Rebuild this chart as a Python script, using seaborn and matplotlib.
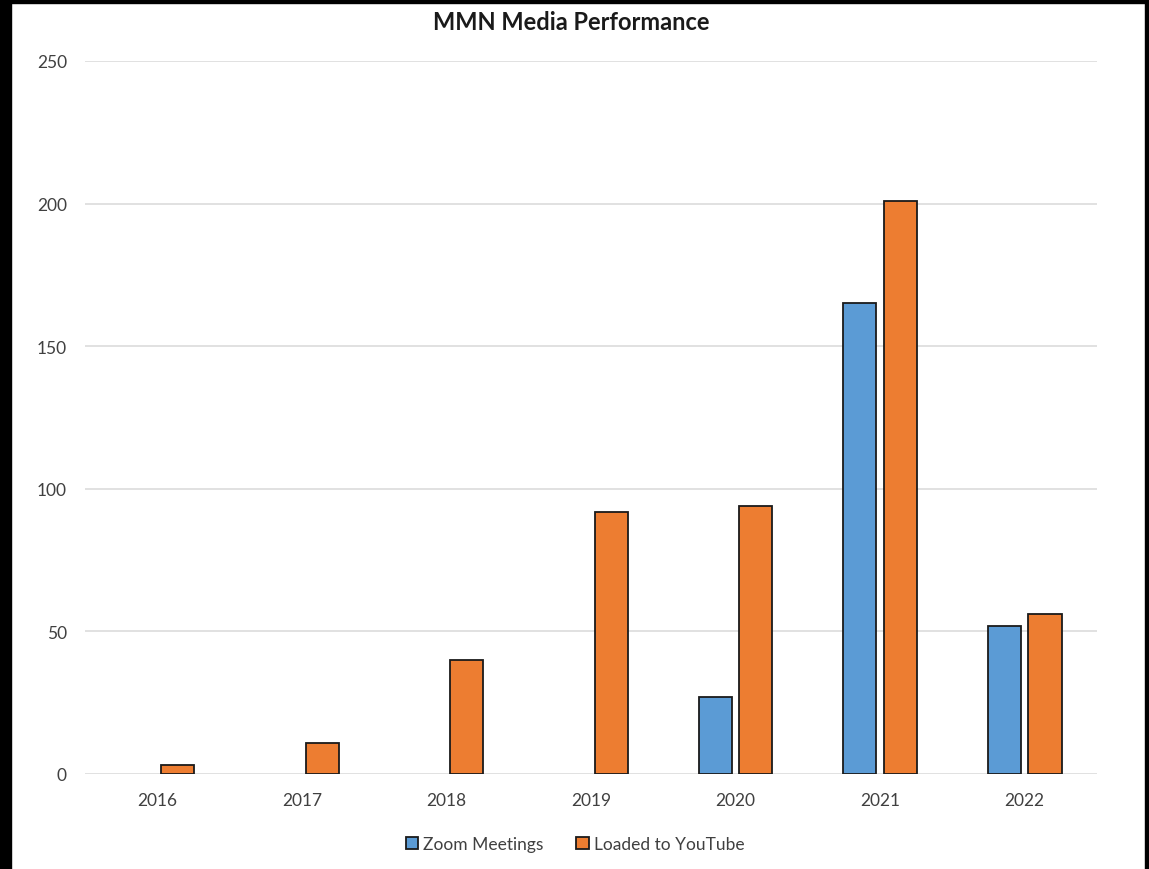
import numpy as np
import pandas as pd
import seaborn as sns
import matplotlib.pyplot as plt
from matplotlib.patches import Rectangle

years = ["2016", "2017", "2018", "2019", "2020", "2021", "2022"]
zoom_meetings = [np.nan, np.nan, np.nan, np.nan, 27, 165, 52]
youtube = [3, 11, 40, 92, 94, 201, 56]
series_names = ["Zoom Meetings", "Loaded to YouTube"]
colors = ["#5B9BD5", "#ED7D31"]

df = pd.DataFrame({
    "year": years * 2,
    "series": [series_names[0]] * len(years) + [series_names[1]] * len(years),
    "value": zoom_meetings + youtube,
})

sns.set_theme(style="white")
plt.rcParams["font.family"] = ["Lato", "DejaVu Sans"]
text_col = "#404040"

fig = plt.figure(figsize=(11.49, 8.70), dpi=100)
ax = fig.add_axes([85 / 1149, 95 / 870, 1012 / 1149, 713 / 870])

sns.barplot(data=df, x="year", y="value", hue="series", order=years,
            hue_order=series_names, palette=colors, width=0.56, gap=0.18,
            edgecolor="#1a1a1a", linewidth=1.3, saturation=1, ax=ax)

ax.set_ylim(0, 250)
ax.set_xlim(-0.5, len(years) - 0.5)
ax.set_yticks([0, 50, 100, 150, 200, 250])
ax.yaxis.grid(True, color="#D9D9D9", linewidth=1.1)
ax.set_axisbelow(True)
for s in ax.spines.values():
    s.set_visible(False)
ax.tick_params(axis="both", length=0, labelsize=12.5, labelcolor=text_col)
ax.tick_params(axis="y", pad=13)
ax.tick_params(axis="x", pad=13)
ax.set_xlabel("")
ax.set_ylabel("")

fig.text(571 / 1149, 1 - 23 / 870, "MMN Media Performance", ha="center",
         va="center", fontsize=17, fontweight="bold", color="#1a1a1a")

handles, labels = ax.get_legend_handles_labels()
ax.legend_.remove()
fig.legend(handles, labels, loc="center", bbox_to_anchor=(575 / 1149, 1 - 845 / 870),
           ncol=2, frameon=False, fontsize=12.5, handlelength=0.7, handleheight=0.7,
           handletextpad=0.3, columnspacing=1.9, labelcolor=text_col)

# black screenshot border (top, left, right)
for x, y, w, h in [(0, 0, 1149, 4), (0, 0, 11, 870), (1145, 0, 4, 870)]:
    fig.patches.append(Rectangle((x / 1149, 1 - (y + h) / 870), w / 1149, h / 870,
                                 transform=fig.transFigure, color="black", zorder=10))

fig.savefig("out.png", dpi=100)
